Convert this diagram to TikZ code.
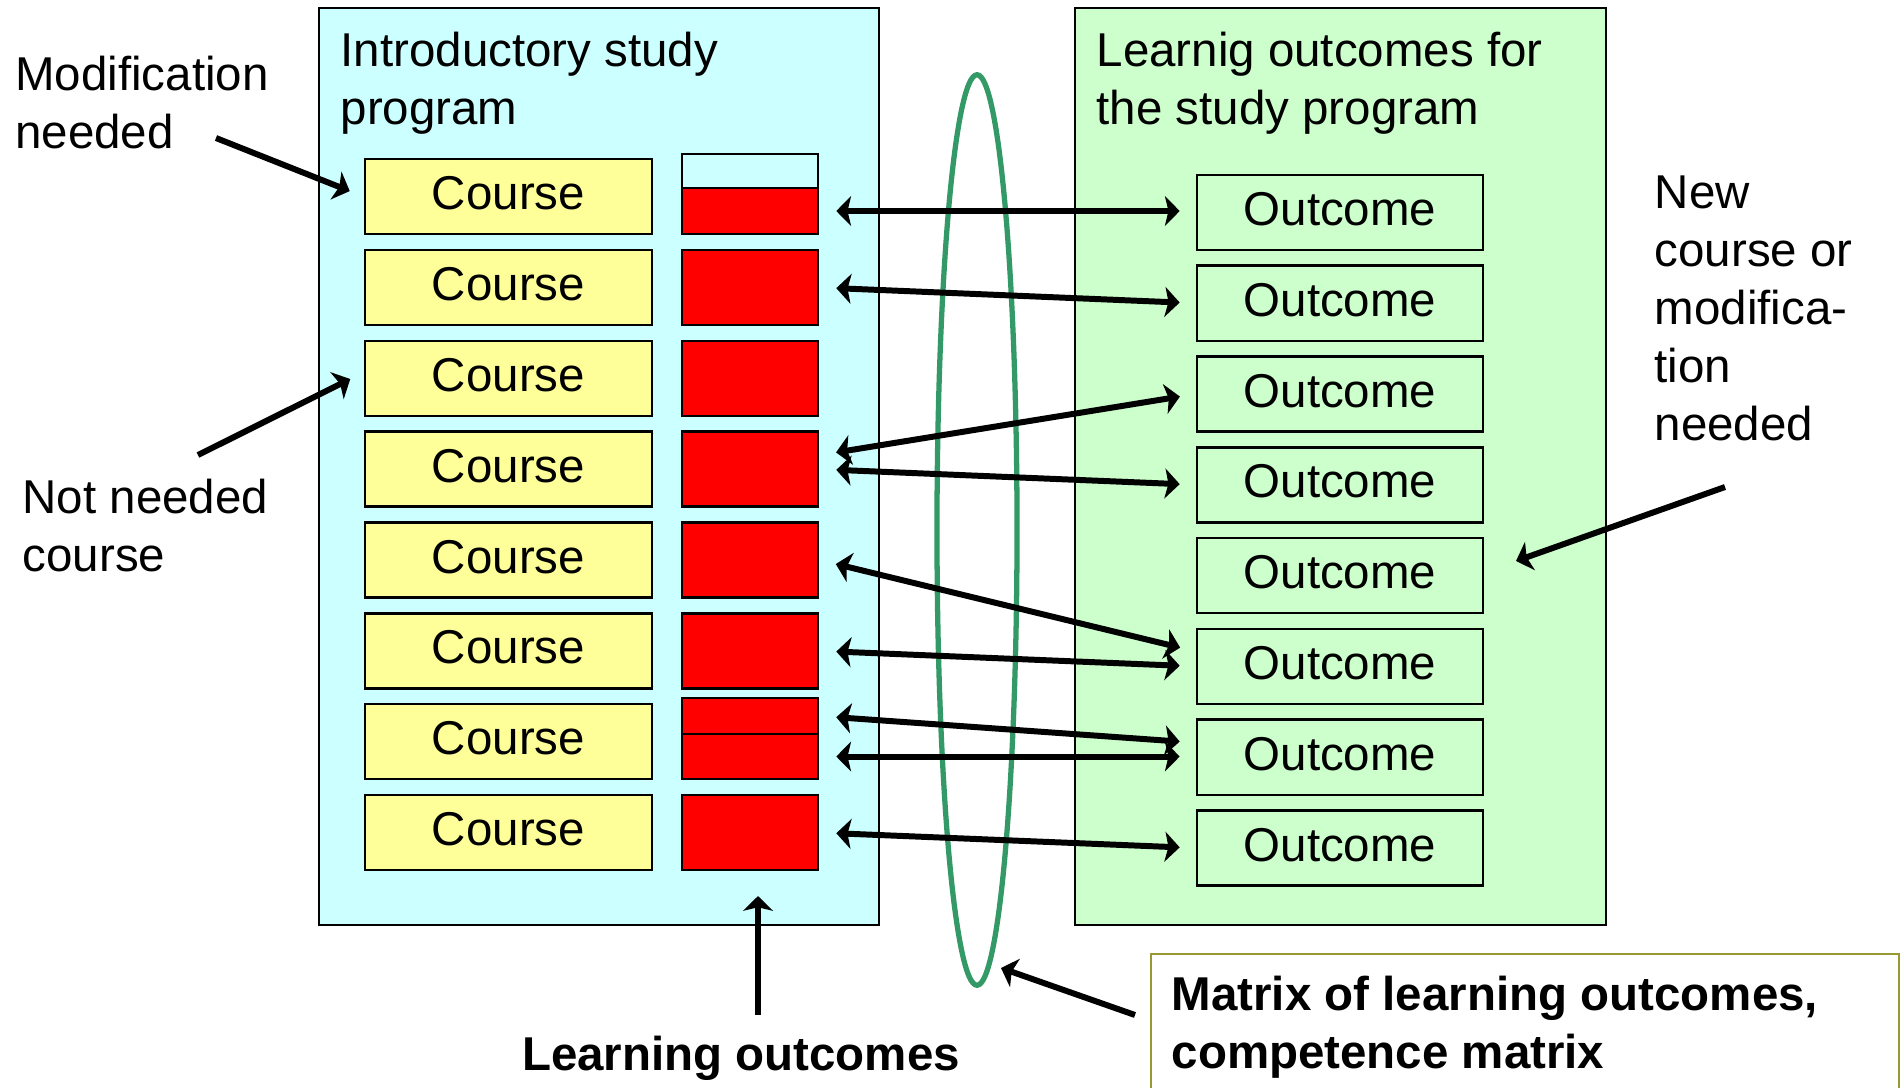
\documentclass[tikz,border=0pt]{standalone}
\usepackage{fontspec}
\setmainfont{Liberation Sans}
\usetikzlibrary{arrows.meta,shapes.geometric}

\definecolor{introbg}{RGB}{204,255,255}
\definecolor{goalbg}{RGB}{204,255,204}
\definecolor{coursefill}{RGB}{255,255,153}
\definecolor{loopgreen}{RGB}{51,153,102}
\definecolor{matborder}{RGB}{153,153,51}

\begin{document}
\begin{tikzpicture}[x=0.01cm,y=-0.01cm,
  every node/.style={font=\fontsize{13.5}{16.5}\selectfont},
  frame/.style={draw=black,line width=0.5pt},
  title/.style={anchor=north west,inner sep=0pt,align=left},
  note/.style={anchor=north west,inner sep=0pt,align=left},
  boldtext/.style={font=\fontsize{13.5}{16.5}\selectfont\bfseries},
  course/.style={draw=black,line width=0.7pt,fill=coursefill,minimum width=2.87cm,minimum height=0.75cm,inner sep=0pt,text depth=2pt},
  outcome/.style={course,fill=goalbg,minimum width=2.86cm},
  lobox/.style={draw=black,line width=0.7pt,fill=red,minimum width=1.36cm,minimum height=0.75cm,inner sep=0pt},
  tip/.style={Stealth[length=4.2pt,width=8.5pt,inset=1pt]},
  link/.style={line width=1.7pt,{Stealth[length=4.2pt,width=8.5pt,inset=1pt]}-{Stealth[length=4.2pt,width=8.5pt,inset=1pt]},shorten <=0.17cm,shorten >=0.16cm},
  pointer/.style={line width=1.7pt,-{Stealth[length=4.2pt,width=8.5pt,inset=1pt]}}]
\useasboundingbox (0,0) rectangle (1903,1087);

\draw[frame,fill=introbg] (319,8) rectangle (879,925);
\draw[frame,fill=goalbg] (1075,8) rectangle (1606,925);
\node[title] (intro) at (340,31) {Introductory study\\program};
\node[title] (goals) at (1096,31) {Learnig outcomes for\\the study program};

\foreach \i in {1,...,8} {
  \node[course] (c\i) at (508.5,{196.6+90.85*(\i-1)}) {Course};
  \node[outcome] (o\i) at (1340,{212.4+90.8*(\i-1)}) {Outcome};
}
\foreach \i in {2,3,4,5,6,8}
  \node[lobox] (r\i) at (750,{196.6+90.85*(\i-1)}) {};
\node[lobox,fill=introbg,minimum height=0.34cm] (r1top) at (750,171) {};
\node[lobox,minimum height=0.46cm] (r1) at (750,211) {};
\node[lobox,minimum height=0.36cm] (r7a) at (750,716) {};
\node[lobox,minimum height=0.45cm] (r7b) at (750,756.5) {};

\node[draw=loopgreen,line width=1.5pt,ellipse,minimum width=0.8cm,minimum height=9.1cm,inner sep=0pt] (loop) at (977,530) {};

\draw[link] (r1.east) -- (r1.east -| o1.west);
\draw[link] (r2.east) -- (o2.west);
\draw[link] ([yshift=0.14cm]r4.east) -- (o3.west);
\draw[link] (r4.east) -- (o4.west);
\draw[link] (r5.east) -- ([yshift=0.15cm]o6.west);
\draw[link] (r6.east) -- (o6.west);
\draw[link] (r7a.east) -- ([yshift=0.145cm]o7.west);
\draw[link] (r7b.east) -- (r7b.east -| o7.west);
\draw[link] (r8.east) -- (o8.west);

\node[note] (modif) at (14.6,55) {Modification\\needed};
\coordinate (modtail) at (216,138);
\draw[pointer,shorten >=0.15cm] (modtail) -- (c1.west);

\node[note] (notneed) at (22,478) {Not needed\\course};
\coordinate (nottail) at (198,455);
\draw[pointer,shorten >=0.15cm] (nottail) -- ([yshift=0.06cm]c3.west);

\node[note] (newneed) at (1654,175) {New\\course or\\modifica-\\tion\\needed};
\coordinate (newtail) at (1725,487);
\coordinate (newtip) at (1516,561);
\draw[pointer] (newtail) -- (newtip);

\node[boldtext,anchor=base,inner sep=0pt] (lo) at (741,1070) {Learning outcomes};
\coordinate (lotip) at (758,896);
\draw[pointer,shorten <=0.2cm] (lo.north -| lotip) -- (lotip);

\draw[draw=matborder,line width=0.8pt] (1151,954) rectangle (1899,1100);
\node[note,boldtext] (mattxt) at (1171,975) {Matrix of learning outcomes,\\competence matrix};
\coordinate (mattail) at (1135,1015);
\coordinate (mattip) at (1001,968);
\draw[pointer] (mattail) -- (mattip);
\end{tikzpicture}
\end{document}
